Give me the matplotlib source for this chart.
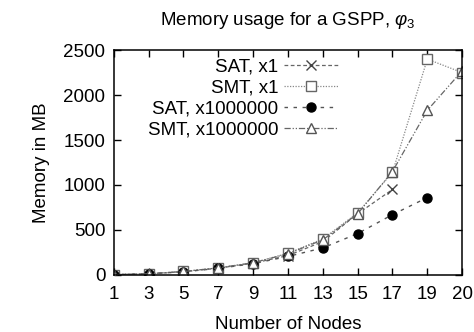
import matplotlib
matplotlib.use("Agg")
import matplotlib.pyplot as plt
import numpy as np

plt.rcParams['font.family'] = ['Liberation Sans', 'DejaVu Sans']
plt.rcParams['mathtext.fontset'] = 'custom'
plt.rcParams['mathtext.rm'] = 'Liberation Sans'
plt.rcParams['mathtext.it'] = 'Liberation Sans:italic'

# ==== dados ====
nodes = ["1", "3", "5", "7", "9", "11", "13", "15", "17", "19", "20"]
sat_x1 = [3, 12, 35, 75, 130, 215, 370, 680, 950]
smt_x1 = [3, 12, 38, 78, 135, 240, 400, 690, 1140, 2400, 2250]
sat_x1m = [3, 12, 35, 72, 125, 205, 300, 460, 670, 860]
smt_x1m = [3, 12, 38, 78, 135, 235, 390, 680, 1150, 1830, 2270]

pos = np.arange(len(nodes))
fs = 13.5

fig = plt.figure(figsize=(4.74, 3.32), dpi=100)
ax = fig.add_axes([0.24, 0.172, 0.735, 0.677])

ax.plot(pos[:len(sat_x1)], sat_x1, color='#666666', lw=0.9, ls=(0, (3, 2)),
        marker='x', ms=7, mew=1.0, mec='#444444', label='SAT, x1')
ax.plot(pos[:len(smt_x1)], smt_x1, color='#888888', lw=0.9, ls=(0, (1, 1.2)),
        marker='s', ms=7, mfc='white', mec='#666666', mew=1.0, label='SMT, x1')
ax.plot(pos[:len(sat_x1m)], sat_x1m, color='#555555', lw=1.0, ls=(0, (2.5, 4)),
        marker='o', ms=6.5, mfc='black', mec='black', label='SAT, x1000000')
ax.plot(pos[:len(smt_x1m)], smt_x1m, color='#666666', lw=0.9, ls=(0, (5, 1.5, 1, 1.5, 1, 1.5)),
        marker='^', ms=7, mfc='white', mec='#555555', mew=1.0, label='SMT, x1000000')

ax.set_xlim(0, len(nodes) - 1)
ax.set_ylim(0, 2500)
ax.set_xticks(pos)
ax.set_xticklabels(nodes)
ax.set_yticks(np.arange(0, 2501, 500))
ax.tick_params(direction='in', top=True, right=True, length=5, width=1,
               labelsize=fs)
ax.tick_params(axis='x', pad=8)
ax.tick_params(axis='y', pad=6)
for s in ax.spines.values():
    s.set_linewidth(1.1)

ax.set_xlabel('Number of Nodes', fontsize=fs, labelpad=9)
ax.set_ylabel('Memory in MB', fontsize=fs, labelpad=10)
ax.set_title(r'Memory usage for a GSPP, $\varphi_3$', fontsize=fs, pad=18)

ax.legend(loc='upper right', bbox_to_anchor=(0.645, 0.965), frameon=False,
          markerfirst=False, fontsize=fs, handlelength=2.9, handletextpad=0.3,
          labelspacing=0.22, borderaxespad=0.0, borderpad=0.0)

fig.savefig('out.png', dpi=100)
